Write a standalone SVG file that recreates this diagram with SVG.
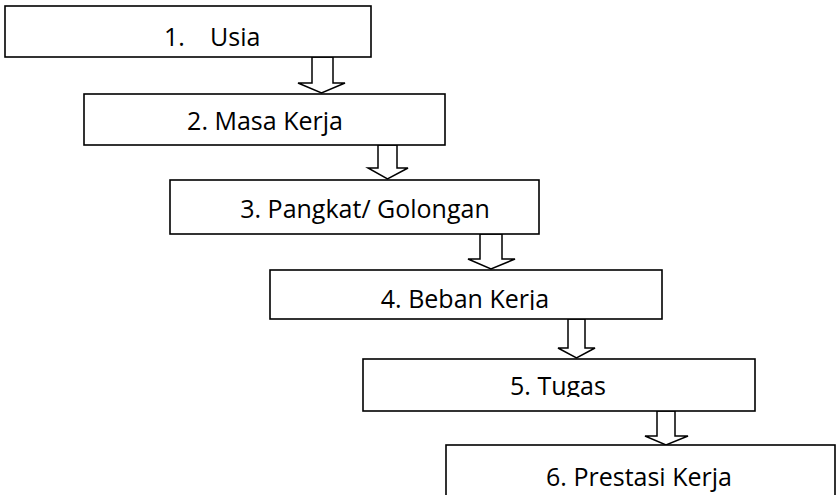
<svg xmlns="http://www.w3.org/2000/svg" width="838" height="495" viewBox="0 0 838 495">
<style>
.box{fill:#fff;stroke:#000;stroke-width:1.6}
.arr{fill:#fff;stroke:#000;stroke-width:1.5;stroke-linejoin:miter}
.t{font-family:"Open Sans","Noto Sans",sans-serif;font-size:25px;fill:#000}
</style>
<defs>
<clipPath id="c4"><rect x="270" y="270" width="392" height="40"/></clipPath>
<clipPath id="c5"><rect x="363" y="359" width="392" height="38"/></clipPath>
</defs>
<rect width="838" height="495" fill="#fff"/>
<g id="connectors">
<polygon class="arr" points="312,57 333,57 333,83 345,83 321.5,93 298,83 312,83"/>
<polygon class="arr" points="378,145 397,145 397,168 408,168 387.5,179 368,168 378,168"/>
<polygon class="arr" points="480,234 502,234 502,259 515,259 491,269 468,259 480,259"/>
<polygon class="arr" points="568,319 585,319 585,348 595,348 576.5,358 558,348 568,348"/>
<polygon class="arr" points="657,411 675,411 675,436 688,436 666,445 645,436 657,436"/>
</g>
<g id="n1">
<rect class="box" x="5" y="6" width="366" height="51"/>
<text class="t" y="46"><tspan x="164">1.</tspan><tspan x="210">Usia</tspan></text>
</g>
<g id="n2">
<rect class="box" x="84" y="94" width="361" height="51"/>
<text class="t" x="265" y="130" text-anchor="middle">2. Masa Kerja</text>
</g>
<g id="n3">
<rect class="box" x="170" y="180" width="369" height="54"/>
<text class="t" x="365" y="218" text-anchor="middle">3. Pangkat/ Golongan</text>
</g>
<g id="n4">
<rect class="box" x="270" y="270" width="392" height="49"/>
<text class="t" x="465" y="308" text-anchor="middle" clip-path="url(#c4)">4. Beban Kerja</text>
</g>
<g id="n5">
<rect class="box" x="363" y="359" width="392" height="52"/>
<text class="t" x="558" y="395" text-anchor="middle" clip-path="url(#c5)">5. Tugas</text>
</g>
<g id="n6">
<rect class="box" x="446" y="445" width="389" height="60"/>
<text class="t" x="639" y="486" text-anchor="middle">6. Prestasi Kerja</text>
</g>
</svg>
